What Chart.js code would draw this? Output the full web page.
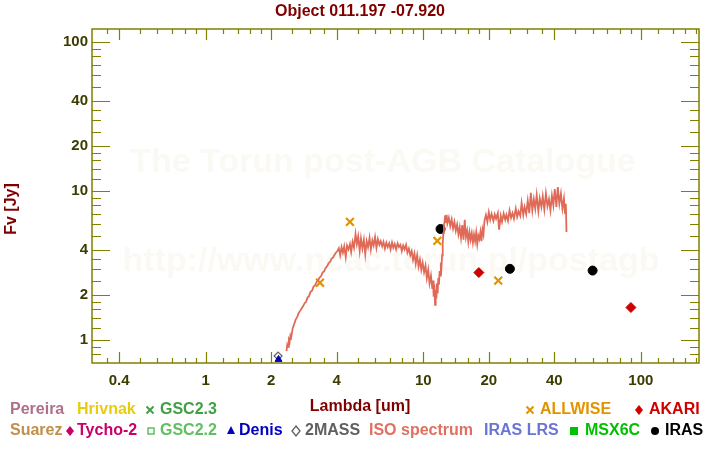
<!DOCTYPE html>
<html>
<head>
    <title>Object 011.197 -07.920</title>
    <script src="https://cdn.jsdelivr.net/npm/chart.js"></script>
    <style>
        body { margin: 0; background: #fff; }
    </style>
</head>
<body>
    <canvas id="sedChart" width="720" height="450"></canvas>
    <script>
        // ISO spectrum (um, Jy)
        const isoWave = [2.35,2.37,2.39,2.41,2.43,2.45,2.47,2.51,2.55,2.59,2.63,2.67,2.71,2.76,2.80,2.85,2.89,2.94,2.98,3.03,3.08,3.13,3.18,3.23,3.28,3.33,3.39,3.44,3.50,3.55,3.61,3.67,3.73,3.79,3.85,3.91,3.97,
            4.03,4.09,4.15,4.21,4.27,4.33,4.40,4.46,4.53,4.60,4.66,4.73,4.80,4.88,4.95,5.02,5.10,5.17,5.25,5.33,5.41,5.49,5.57,5.66,5.74,5.83,5.91,6.00,6.09,6.18,6.28,6.37,6.47,6.56,6.66,6.76,6.86,6.97,7.07,7.18,7.28,7.39,7.50,7.62,7.73,7.85,7.96,8.08,8.20,8.33,8.45,8.58,8.71,8.84,8.97,
            9.10,9.23,9.37,9.51,9.65,9.79,9.93,10.08,10.23,10.38,10.53,10.68,10.84,11.00,11.08,11.16,11.24,11.32,11.40,11.48,11.56,11.64,11.72,11.80,11.88,11.96,12.04,12.12,12.20,12.28,12.36,12.44,
            12.52,12.60,12.70,12.80,12.90,13.10,13.30,13.50,13.70,13.90,14.10,14.30,14.50,14.70,14.90,15.10,15.30,15.50,15.70,15.90,16.10,16.30,16.50,16.70,16.90,17.10,17.30,17.50,17.70,17.90,18.10,18.30,18.50,18.70,18.90,19.10,
            19.4,19.7,20.0,20.3,20.6,21.0,21.3,21.6,22.0,22.3,22.7,23.0,23.4,23.8,24.1,24.5,24.9,25.3,25.7,26.1,26.6,27.0,27.4,27.9,28.3,28.8,29.2,29.7,30.2,30.7,31.2,31.7,32.2,32.7,33.2,33.8,34.3,34.9,35.4,36.0,36.6,37.2,37.8,38.4,39.0,39.6,40.2,40.9,41.5,42.2,42.9,43.6,44.3,44.8,45.2,45.5];
        const isoFlux = [0.84,0.93,0.90,1.00,0.97,1.07,1.04,1.20,1.28,1.37,1.42,1.51,1.56,1.63,1.68,1.77,1.80,1.93,1.96,2.10,2.14,2.28,2.32,2.45,2.50,2.61,2.68,2.83,2.88,3.03,3.12,3.27,3.35,3.52,3.58,3.73,3.86,
            3.95,4.12,3.70,4.20,3.85,4.25,3.60,4.30,4.05,4.40,3.90,4.55,4.15,5.15,4.40,4.95,3.95,4.80,4.10,4.70,3.75,4.60,4.20,4.85,4.05,4.65,4.30,4.90,4.15,4.75,4.35,4.60,4.25,4.55,4.10,4.50,4.20,4.45,4.05,4.50,4.15,4.40,4.05,4.45,4.20,4.35,3.95,4.30,4.05,4.35,3.85,4.10,3.70,3.95,3.45,
            3.80,3.25,3.70,3.10,3.45,2.95,3.30,2.85,3.15,2.60,2.95,2.40,2.70,2.20,2.50,1.95,2.35,1.72,2.15,1.90,2.40,2.05,2.60,2.35,2.90,2.70,3.30,3.10,3.70,4.40,5.20,5.90,
            6.20,6.85,6.10,6.90,6.05,6.60,5.80,6.45,5.60,6.20,5.40,5.95,5.10,5.70,4.85,5.90,4.70,6.40,4.90,5.40,4.55,5.30,4.70,5.20,4.50,5.10,4.60,5.25,4.40,5.00,4.75,5.30,4.60,5.50,5.10,6.30,
            6.90,6.20,7.20,6.40,7.00,6.30,6.95,6.50,7.10,5.50,6.80,6.20,7.05,6.40,6.90,6.30,7.40,6.60,7.10,6.50,7.60,6.70,7.30,6.80,8.30,6.90,7.80,7.00,8.60,7.10,9.70,7.40,8.80,7.60,9.40,7.30,8.90,7.80,9.20,7.50,9.60,7.90,8.80,7.40,9.30,8.00,10.30,7.80,10.60,8.20,9.60,7.60,8.90,7.10,8.20,5.30];

        // photometry
        const allwiseWave = [3.35, 4.6, 11.6, 22.1];
        const allwiseFlux = [2.42, 6.2, 4.62, 2.50];
        const irasWave = [12, 25, 60];
        const irasFlux = [5.55, 3.0, 2.92];
        const akariWave = [18, 90];
        const akariFlux = [2.83, 1.65];
        const twomassWave = [2.15];
        const twomassFlux = [0.78];
        const denisWave = [2.16];
        const denisFlux = [0.74];

        // axes
        const xMin = 0.323, xMax = 185;
        const yMin = 0.724, yMax = 122;
        const xMajor = [0.4, 1, 2, 4, 10, 20, 40, 100];
        const xMinor = [0.35, 0.5, 0.6, 0.7, 0.8, 0.9, 1.2, 1.4, 1.6, 1.8, 2.5, 3, 3.5, 5, 6, 7, 8, 9, 12, 14, 16, 18, 25, 30, 35, 50, 60, 70, 80, 90, 120, 140, 160, 180];
        const yMajor = [1, 2, 4, 10, 20, 40, 100];
        const yMinor = [0.8, 0.9, 1.2, 1.4, 1.6, 1.8, 2.5, 3, 3.5, 5, 6, 7, 8, 9, 12, 14, 16, 18, 25, 30, 35, 50, 60, 70, 80, 90];

        const legendRow1 = [
            { text: 'Pereira', x: 10, color: '#b0708a' },
            { text: 'Hrivnak', x: 77, color: '#e8cc10' },
            { mark: 'cross', mx: 150, text: 'GSC2.3', x: 160, color: '#40a045' },
            { mark: 'cross', mx: 530, text: 'ALLWISE', x: 540, color: '#e09400' },
            { mark: 'diamond', mx: 639, text: 'AKARI', x: 649, color: '#d00000' }
        ];
        const legendRow2 = [
            { text: 'Suarez', x: 10, color: '#c09048' },
            { mark: 'diamond', mx: 70, text: 'Tycho-2', x: 77, color: '#c8006a' },
            { mark: 'square', mx: 151, text: 'GSC2.2', x: 160, color: '#60c060' },
            { mark: 'triangle', mx: 231, text: 'Denis', x: 239, color: '#0000c0' },
            { mark: 'diamondOpen', mx: 296, text: '2MASS', x: 305, color: '#606060' },
            { text: 'ISO spectrum', x: 369, color: '#e07060' },
            { text: 'IRAS LRS', x: 484, color: '#6a74d4' },
            { mark: 'squareFill', mx: 574, text: 'MSX6C', x: 585, color: '#00c000' },
            { mark: 'circle', mx: 655, text: 'IRAS', x: 665, color: '#000000' }
        ];

        const FONT = '"Liberation Sans", Arial, sans-serif';

        function pts(xs, ys) {
            return xs.map((x, i) => ({ x: x, y: ys[i] }));
        }

        function drawMark(ctx, type, x, y, color) {
            ctx.save();
            ctx.fillStyle = color;
            ctx.strokeStyle = color;
            ctx.lineWidth = 2;
            ctx.beginPath();
            if (type === 'cross') {
                ctx.moveTo(x - 3.5, y - 3.5); ctx.lineTo(x + 3.5, y + 3.5);
                ctx.moveTo(x + 3.5, y - 3.5); ctx.lineTo(x - 3.5, y + 3.5);
                ctx.stroke();
            } else if (type === 'diamond' || type === 'diamondOpen') {
                ctx.moveTo(x, y - 5); ctx.lineTo(x + 4, y); ctx.lineTo(x, y + 5); ctx.lineTo(x - 4, y); ctx.closePath();
                if (type === 'diamond') ctx.fill(); else { ctx.lineWidth = 1.3; ctx.stroke(); }
            } else if (type === 'square') {
                ctx.lineWidth = 1.5;
                ctx.strokeRect(x - 3, y - 3, 6, 6);
            } else if (type === 'squareFill') {
                ctx.fillRect(x - 4, y - 4, 8, 8);
            } else if (type === 'triangle') {
                ctx.moveTo(x, y - 5); ctx.lineTo(x + 4, y + 3); ctx.lineTo(x - 4, y + 3); ctx.closePath();
                ctx.fill();
            } else if (type === 'circle') {
                ctx.arc(x, y, 4, 0, Math.PI * 2);
                ctx.fill();
            }
            ctx.restore();
        }

        const watermark = {
            id: 'watermark',
            beforeDatasetsDraw(chart) {
                const ctx = chart.ctx;
                ctx.save();
                ctx.fillStyle = '#fbf9f3';
                ctx.textAlign = 'center';
                ctx.textBaseline = 'middle';
                ctx.font = 'bold 34px ' + FONT;
                ctx.fillText('The Torun post-AGB Catalogue', 383, 163);
                ctx.fillText('http://www.ncac.torun.pl/postagb', 391, 262);
                ctx.restore();
            }
        };

        const frame = {
            id: 'frame',
            afterDraw(chart) {
                const ctx = chart.ctx;
                const xs = chart.scales.x, ys = chart.scales.y;
                ctx.save();
                ctx.strokeStyle = '#808000';
                ctx.lineWidth = 1.5;
                ctx.strokeRect(xs.left, ys.top, xs.right - xs.left, ys.bottom - ys.top);
                ctx.lineWidth = 1.2;
                ctx.beginPath();
                xMajor.concat(xMinor).forEach(v => {
                    const px = Math.round(xs.getPixelForValue(v)) + 0.5;
                    const len = xMajor.includes(v) ? 11 : 5;
                    ctx.moveTo(px, ys.bottom); ctx.lineTo(px, ys.bottom - len);
                    ctx.moveTo(px, ys.top); ctx.lineTo(px, ys.top + len);
                });
                yMajor.concat(yMinor).forEach(v => {
                    const py = Math.round(ys.getPixelForValue(v)) + 0.5;
                    const len = yMajor.includes(v) ? 18 : 9;
                    ctx.moveTo(xs.left, py); ctx.lineTo(xs.left + len, py);
                    ctx.moveTo(xs.right, py); ctx.lineTo(xs.right - len, py);
                });
                ctx.stroke();

                // tick labels
                ctx.fillStyle = '#3c3c00';
                ctx.font = 'bold 15px ' + FONT;
                ctx.textAlign = 'center';
                ctx.textBaseline = 'middle';
                xMajor.forEach(v => ctx.fillText(String(v), xs.getPixelForValue(v), 381));
                ctx.textAlign = 'right';
                yMajor.forEach(v => ctx.fillText(String(v), xs.left - 4, ys.getPixelForValue(v)));

                // titles
                ctx.fillStyle = '#800000';
                ctx.font = 'bold 16px ' + FONT;
                ctx.textAlign = 'center';
                ctx.fillText('Object 011.197 -07.920', 360, 12);
                ctx.fillText('Lambda [um]', 360, 407);
                ctx.save();
                ctx.translate(12, 209);
                ctx.rotate(-Math.PI / 2);
                ctx.fillText('Fv [Jy]', 0, 0);
                ctx.restore();

                // legend
                ctx.font = 'bold 16px ' + FONT;
                ctx.textAlign = 'left';
                [[legendRow1, 410], [legendRow2, 431]].forEach(([row, y]) => {
                    row.forEach(it => {
                        if (it.mark) drawMark(ctx, it.mark, it.mx, y, it.color);
                        ctx.fillStyle = it.color;
                        ctx.fillText(it.text, it.x, y);
                    });
                });
                ctx.restore();
            }
        };

        new Chart(document.getElementById('sedChart'), {
            type: 'scatter',
            data: {
                datasets: [
                    {
                        label: 'ISO spectrum',
                        data: pts(isoWave, isoFlux),
                        showLine: true,
                        borderColor: '#e06a58',
                        borderWidth: 1.8,
                        pointRadius: 0,
                        tension: 0
                    },
                    {
                        label: 'Denis',
                        data: pts(denisWave, denisFlux),
                        pointStyle: 'triangle',
                        pointRadius: 4,
                        borderColor: '#0000c0',
                        backgroundColor: '#0000c0',
                        clip: false
                    },
                    {
                        label: '2MASS',
                        data: pts(twomassWave, twomassFlux),
                        pointStyle: 'rectRot',
                        pointRadius: 4,
                        borderColor: '#606060',
                        backgroundColor: '#ffffff',
                        borderWidth: 1.2,
                        clip: false
                    },
                    {
                        label: 'ALLWISE',
                        data: pts(allwiseWave, allwiseFlux),
                        pointStyle: 'crossRot',
                        pointRadius: 5.5,
                        borderColor: '#e09400',
                        borderWidth: 2.2
                    },
                    {
                        label: 'AKARI',
                        data: pts(akariWave, akariFlux),
                        pointStyle: 'rectRot',
                        pointRadius: 5,
                        borderColor: '#cc0000',
                        backgroundColor: '#cc0000'
                    },
                    {
                        label: 'IRAS',
                        data: pts(irasWave, irasFlux),
                        pointStyle: 'circle',
                        pointRadius: 4.5,
                        borderColor: '#000000',
                        backgroundColor: '#000000'
                    }
                ]
            },
            options: {
                responsive: false,
                animation: false,
                layout: { autoPadding: false, padding: { left: 92, right: 21, top: 29, bottom: 87 } },
                plugins: {
                    legend: { display: false },
                    title: { display: false },
                    tooltip: { enabled: false }
                },
                scales: {
                    x: { type: 'logarithmic', min: xMin, max: xMax, display: false },
                    y: { type: 'logarithmic', min: yMin, max: yMax, display: false }
                }
            },
            plugins: [watermark, frame]
        });
    </script>
</body>
</html>
